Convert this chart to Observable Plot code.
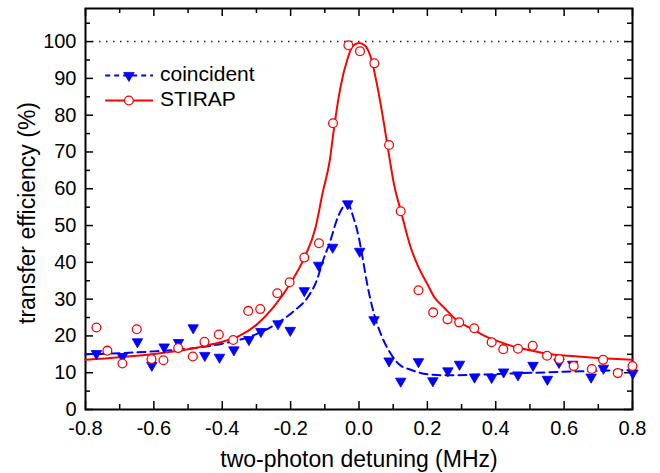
<!DOCTYPE html>
<html>
<head>
<meta charset="utf-8">
<script src="https://cdn.jsdelivr.net/npm/d3@7"></script>
<script src="https://cdn.jsdelivr.net/npm/@observablehq/plot@0.6"></script>
<style>
  html, body { margin: 0; padding: 0; background: #fff; }
  #chart svg { display: block; }
</style>
</head>
<body>
<div id="chart"></div>
<script>
// ---- data ----
// STIRAP measurements (open red circles)
const stirapX = [-0.768,-0.736,-0.692,-0.650,-0.607,-0.572,-0.529,-0.486,-0.452,-0.410,-0.368,-0.324,-0.289,-0.239,-0.203,-0.160,-0.117,-0.076,-0.031,0.003,0.045,0.088,0.122,0.174,0.217,0.259,0.293,0.337,0.388,0.422,0.465,0.508,0.550,0.586,0.628,0.681,0.714,0.757,0.800];
const stirapY = [22.3,16.0,12.5,21.8,13.7,13.4,16.7,14.4,18.4,20.4,18.9,26.8,27.3,31.6,34.6,41.3,45.2,77.8,99.0,97.4,94.1,71.9,53.9,32.4,26.4,24.5,23.7,22.1,18.3,16.4,16.5,17.3,14.6,13.7,11.8,11.0,13.5,9.9,11.8];

// coincident measurements (filled blue down-triangles)
const coincX = [-0.768,-0.692,-0.648,-0.606,-0.570,-0.528,-0.485,-0.451,-0.408,-0.366,-0.322,-0.287,-0.237,-0.201,-0.160,-0.118,-0.077,-0.033,0.002,0.044,0.088,0.122,0.174,0.216,0.260,0.294,0.338,0.388,0.423,0.465,0.509,0.551,0.585,0.625,0.679,0.715,0.801];
const coincY = [15.2,14.4,18.4,12.0,17.0,18.2,22.2,14.7,14.2,16.2,19.0,21.2,23.3,21.5,32.3,39.2,44.1,55.9,43.0,24.4,13.2,7.7,13.0,7.8,10.5,12.3,8.8,8.7,10.2,9.4,12.0,8.2,12.8,12.3,8.8,11.2,9.9];

// STIRAP fit curve (solid red)
const stirapFitX = [-0.80,-0.70,-0.60,-0.50,-0.45,-0.40,-0.35,-0.30,-0.25,-0.20,-0.16,-0.127,-0.107,-0.085,-0.073,-0.054,-0.034,-0.018,0.0,0.018,0.034,0.054,0.073,0.088,0.102,0.122,0.151,0.175,0.200,0.220,0.250,0.288,0.330,0.366,0.400,0.464,0.500,0.561,0.600,0.659,0.700,0.800];
const stirapFitY = [13.5,14.2,15.1,16.4,17.3,18.4,20.0,23.0,27.8,34.4,41.2,49.5,58.6,68.0,76.5,87.7,95.2,98.8,99.6,98.9,95.9,87.7,77.7,69.0,61.4,54.1,44.1,38.5,34.1,30.6,27.6,24.1,21.9,20.1,18.8,16.8,16.1,15.0,14.7,14.3,14.0,13.5];

// coincident guide line (dashed blue)
const coincFitX = [-0.80,-0.70,-0.60,-0.50,-0.40,-0.30,-0.24,-0.19,-0.15,-0.122,-0.107,-0.085,-0.063,-0.034,-0.015,0.0,0.010,0.024,0.039,0.064,0.088,0.117,0.151,0.200,0.260,0.350,0.450,0.550,0.650,0.800];
const coincFitY = [15.0,15.3,15.8,16.5,17.9,20.5,23.4,26.8,30.5,35.5,40.0,45.5,52.0,56.0,51.8,46.5,41.5,34.1,27.7,20.5,15.9,12.3,10.8,9.6,9.3,9.5,9.8,10.1,10.4,10.7];

const xTicks = [-0.8,-0.6,-0.4,-0.2,0.0,0.2,0.4,0.6,0.8];
const xMinorTicks = [-0.7,-0.5,-0.3,-0.1,0.1,0.3,0.5,0.7];
const yTicks = [0,10,20,30,40,50,60,70,80,90,100];
const yMinorTicks = [5,15,25,35,45,55,65,75,85,95,105];
const referenceLevel = [100];

const legendLabels = ["coincident", "STIRAP"];
const legendY = [90.8, 84.0];

const xLabel = "two-photon detuning (MHz)";
const yLabel = "transfer efficiency (%)";

// ---- tables ----
const stirap = stirapX.map((x, i) => ({x, y: stirapY[i]}));
const coinc = coincX.map((x, i) => ({x, y: coincY[i]}));
const stirapFit = stirapFitX.map((x, i) => ({x, y: stirapFitY[i]}));
const coincFit = coincFitX.map((x, i) => ({x, y: coincFitY[i]}));

const W = 660, H = 473;
const mL = 85, mR = 28, mT = 8, mB = 64;
const frameH = H - mT - mB, frameW = W - mL - mR;
const majorLen = 8, minorLen = 5;
const RED = "#ff0000", BLUE = "#0000ff";
const FONT = "Liberation Sans, Arial, Helvetica, sans-serif";

const legX1 = -0.741, legX2 = -0.601, legXm = -0.673, legXt = -0.582;

const chart = Plot.plot({
  width: W,
  height: H,
  marginLeft: mL,
  marginRight: mR,
  marginTop: mT,
  marginBottom: mB,
  style: {fontFamily: FONT, color: "#000", background: "#fff"},
  x: {domain: [-0.8, 0.8]},
  y: {domain: [0, 109]},
  marks: [
    // tick labels only
    Plot.axisX(xTicks, {tickSize: 0, tickPadding: 11, fontSize: 20, tickFormat: d => d.toFixed(1), label: null}),
    Plot.axisY(yTicks, {tickSize: 0, tickPadding: 9, fontSize: 20, tickFormat: d => String(d), label: null}),
    // inward ticks: bottom/top
    Plot.ruleX(xTicks, {insetTop: frameH - majorLen, stroke: "#000", strokeWidth: 1.5}),
    Plot.ruleX(xTicks, {insetBottom: frameH - majorLen, stroke: "#000", strokeWidth: 1.5}),
    Plot.ruleX(xMinorTicks, {insetTop: frameH - minorLen, stroke: "#000", strokeWidth: 1.5}),
    Plot.ruleX(xMinorTicks, {insetBottom: frameH - minorLen, stroke: "#000", strokeWidth: 1.5}),
    // inward ticks: left/right
    Plot.ruleY(yTicks, {insetRight: frameW - majorLen, stroke: "#000", strokeWidth: 1.5}),
    Plot.ruleY(yTicks, {insetLeft: frameW - majorLen, stroke: "#000", strokeWidth: 1.5}),
    Plot.ruleY(yMinorTicks, {insetRight: frameW - minorLen, stroke: "#000", strokeWidth: 1.5}),
    Plot.ruleY(yMinorTicks, {insetLeft: frameW - minorLen, stroke: "#000", strokeWidth: 1.5}),
    // 100% reference
    Plot.ruleY(referenceLevel, {stroke: "#222", strokeWidth: 1.5, strokeDasharray: "1.5,5.5"}),
    // axis titles
    Plot.text([xLabel], {text: d => d, frameAnchor: "bottom", lineAnchor: "middle", textAnchor: "middle", dy: 50, fontSize: 23, fill: "#000"}),
    Plot.text([yLabel], {text: d => d, frameAnchor: "left", lineAnchor: "middle", textAnchor: "middle", dx: -58, dy: 4, rotate: -90, fontSize: 23, fill: "#000"}),
    // frame
    Plot.frame({stroke: "#000", strokeWidth: 2}),
    // lines
    Plot.line(coincFit, {x: "x", y: "y", stroke: BLUE, strokeWidth: 2, strokeDasharray: "8,5", curve: "monotone-x"}),
    Plot.line(stirapFit, {x: "x", y: "y", stroke: RED, strokeWidth: 2, curve: "monotone-x"}),
    // points
    Plot.dot(coinc, {x: "x", y: "y", symbol: "triangle", r: 3.9, rotate: 180, fill: BLUE, stroke: BLUE, strokeWidth: 0.8}),
    Plot.dot(stirap, {x: "x", y: "y", symbol: "circle", r: 4.4, fill: "#fff", stroke: RED, strokeWidth: 1.3}),
    // legend
    Plot.ruleY([legendY[0]], {x1: legX1, x2: legX2, stroke: BLUE, strokeWidth: 2, strokeDasharray: "5,4"}),
    Plot.ruleY([legendY[1]], {x1: legX1, x2: legX2, stroke: RED, strokeWidth: 2}),
    Plot.dot([legendY[0]], {x: legXm, y: d => d, symbol: "triangle", r: 3.9, rotate: 180, fill: BLUE, stroke: BLUE, strokeWidth: 0.8}),
    Plot.dot([legendY[1]], {x: legXm, y: d => d, symbol: "circle", r: 4.4, fill: "#fff", stroke: RED, strokeWidth: 1.3}),
    Plot.text(legendLabels, {x: legXt, y: (d, i) => legendY[i], text: d => d, textAnchor: "start", dy: -1, fontSize: 21, fill: "#000"})
  ]
});
document.getElementById("chart").appendChild(chart);
</script>
</body>
</html>
